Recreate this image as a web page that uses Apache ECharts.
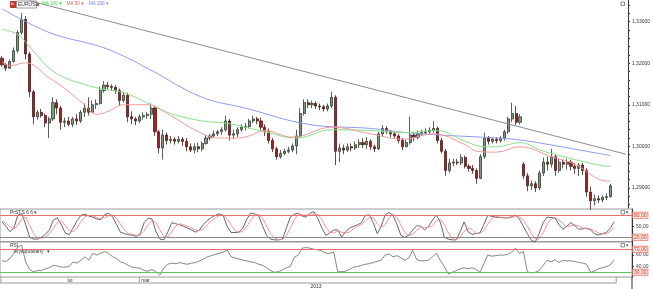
<!DOCTYPE html>
<html><head><meta charset="utf-8">
<script src="https://cdn.jsdelivr.net/npm/echarts@6/dist/echarts.min.js"></script>
<style>html,body{margin:0;padding:0;background:#fff}#c{width:653px;height:289px}</style>
</head><body><div id="c"></div>
<script>
const symbol = 'EURUSD';
const openP = [1.3212,1.3196,1.3188,1.3204,1.3230,1.3274,1.3305,1.3222,1.3131,1.3071,
1.3082,1.3074,1.3056,1.3066,1.3105,1.3092,1.3058,1.3061,1.3053,1.3066,
1.3061,1.3082,1.3092,1.3082,1.3100,1.3103,1.3134,1.3147,1.3144,1.3142,
1.3134,1.3110,1.3123,1.3071,1.3066,1.3061,1.3071,1.3074,1.3077,1.3092,
1.3035,1.2996,1.3027,1.3014,1.3017,1.3012,1.3017,1.3012,1.2999,1.2991,
1.2999,1.2994,1.3007,1.3020,1.3025,1.3030,1.3035,1.3040,1.3061,1.3027,
1.3030,1.3040,1.3046,1.3048,1.3061,1.3066,1.3061,1.3046,1.3035,1.3014,
1.2994,1.2975,1.2983,1.2988,1.2991,1.3001,1.3025,1.3079,1.3105,1.3100,
1.3103,1.3097,1.3095,1.3090,1.3097,1.3118,1.2988,1.2996,1.2991,1.2999,
1.2996,1.3004,1.3009,1.3004,1.3012,1.2999,1.2994,1.3030,1.3043,1.3035,
1.3030,1.3025,1.3014,1.2999,1.3009,1.3027,1.3022,1.3030,1.3033,1.3035,
1.3038,1.3043,1.3014,1.2988,1.2942,1.2960,1.2962,1.2960,1.2973,1.2952,
1.2947,1.2942,1.2923,1.2975,1.3020,1.3012,1.3017,1.3014,1.3020,1.3035,
1.3066,1.3079,1.3058,1.2957,1.2929,1.2905,1.2910,1.2900,1.2936,1.2962,
1.2957,1.2975,1.2942,1.2962,1.2957,1.2962,1.2952,1.2947,1.2955,1.2942,
1.2890,1.2869,1.2874,1.2871,1.2877,1.2879];
const closeP = [1.3196,1.3188,1.3204,1.3230,1.3274,1.3305,1.3222,1.3131,1.3071,1.3082,
1.3074,1.3056,1.3066,1.3105,1.3092,1.3058,1.3061,1.3053,1.3066,1.3061,
1.3082,1.3092,1.3082,1.3100,1.3103,1.3134,1.3147,1.3144,1.3142,1.3134,
1.3110,1.3123,1.3071,1.3066,1.3061,1.3071,1.3074,1.3077,1.3092,1.3035,
1.2996,1.3027,1.3014,1.3017,1.3012,1.3017,1.3012,1.2999,1.2991,1.2999,
1.2994,1.3007,1.3020,1.3025,1.3030,1.3035,1.3040,1.3061,1.3027,1.3030,
1.3040,1.3046,1.3048,1.3061,1.3066,1.3061,1.3046,1.3035,1.3014,1.2994,
1.2975,1.2983,1.2988,1.2991,1.3001,1.3025,1.3079,1.3105,1.3100,1.3103,
1.3097,1.3095,1.3090,1.3097,1.3118,1.2988,1.2996,1.2991,1.2999,1.2996,
1.3004,1.3009,1.3004,1.3012,1.2999,1.2994,1.3030,1.3043,1.3035,1.3030,
1.3025,1.3014,1.2999,1.3009,1.3027,1.3022,1.3030,1.3033,1.3035,1.3038,
1.3043,1.3014,1.2988,1.2942,1.2960,1.2962,1.2960,1.2973,1.2952,1.2947,
1.2942,1.2923,1.2975,1.3020,1.3012,1.3017,1.3014,1.3020,1.3035,1.3066,
1.3079,1.3058,1.3071,1.2929,1.2905,1.2910,1.2900,1.2936,1.2962,1.2957,
1.2975,1.2942,1.2962,1.2957,1.2962,1.2952,1.2947,1.2955,1.2942,1.2890,
1.2869,1.2874,1.2871,1.2877,1.2879,1.2905];
const lowP = [1.3191,1.3181,1.3186,1.3201,1.3225,1.3269,1.3209,1.3118,1.3053,1.3064,
1.3069,1.3046,1.3020,1.3061,1.3077,1.3040,1.3046,1.3048,1.3046,1.3051,
1.3056,1.3071,1.3074,1.3082,1.3090,1.3100,1.3129,1.3136,1.3134,1.3126,
1.3097,1.3105,1.3058,1.3053,1.3051,1.3056,1.3064,1.3066,1.3066,1.3025,
1.2983,1.2968,1.3004,1.3007,1.3004,1.3007,1.3001,1.2988,1.2986,1.2983,
1.2986,1.2988,1.3004,1.3014,1.3020,1.3025,1.3027,1.3035,1.3014,1.3017,
1.3022,1.3035,1.3038,1.3043,1.3056,1.3053,1.3038,1.3025,1.3007,1.2986,
1.2968,1.2970,1.2978,1.2983,1.2986,1.2981,1.3020,1.3074,1.3092,1.3092,
1.3090,1.3087,1.3084,1.3084,1.3092,1.2955,1.2962,1.2981,1.2986,1.2988,
1.2991,1.2996,1.2996,1.2994,1.2991,1.2986,1.2991,1.3025,1.3030,1.3022,
1.3020,1.3007,1.2991,1.2999,1.3004,1.3012,1.3017,1.3025,1.3027,1.3030,
1.3033,1.3007,1.2983,1.2929,1.2936,1.2952,1.2955,1.2955,1.2947,1.2939,
1.2934,1.2910,1.2921,1.2970,1.3004,1.3007,1.3007,1.3009,1.3014,1.3030,
1.3058,1.3051,1.3053,1.2921,1.2892,1.2895,1.2890,1.2895,1.2929,1.2942,
1.2949,1.2929,1.2936,1.2947,1.2944,1.2942,1.2934,1.2929,1.2931,1.2879,
1.2848,1.2858,1.2864,1.2866,1.2871,1.2877];
const highP = [1.3217,1.3201,1.3209,1.3238,1.3279,1.3321,1.3313,1.3227,1.3136,1.3087,
1.3090,1.3079,1.3071,1.3118,1.3113,1.3097,1.3069,1.3071,1.3071,1.3077,
1.3087,1.3103,1.3118,1.3110,1.3113,1.3144,1.3157,1.3155,1.3149,1.3147,
1.3139,1.3131,1.3129,1.3084,1.3071,1.3077,1.3082,1.3082,1.3103,1.3097,
1.3040,1.3040,1.3033,1.3025,1.3022,1.3025,1.3022,1.3020,1.3007,1.3007,
1.3009,1.3012,1.3027,1.3030,1.3038,1.3040,1.3046,1.3074,1.3066,1.3040,
1.3046,1.3053,1.3056,1.3066,1.3074,1.3071,1.3069,1.3053,1.3043,1.3020,
1.2999,1.2991,1.2994,1.2999,1.3007,1.3040,1.3092,1.3113,1.3113,1.3110,
1.3108,1.3103,1.3100,1.3103,1.3131,1.3123,1.3007,1.3004,1.3007,1.3007,
1.3012,1.3017,1.3020,1.3022,1.3017,1.3004,1.3035,1.3051,1.3048,1.3040,
1.3035,1.3030,1.3020,1.3017,1.3071,1.3035,1.3038,1.3040,1.3043,1.3046,
1.3061,1.3048,1.3020,1.2994,1.2970,1.2970,1.2970,1.2981,1.2978,1.2957,
1.2955,1.2947,1.2981,1.3033,1.3025,1.3022,1.3022,1.3025,1.3040,1.3071,
1.3105,1.3097,1.3077,1.2962,1.2936,1.2918,1.2916,1.2942,1.2973,1.2975,
1.2994,1.2981,1.2970,1.2968,1.2970,1.2968,1.2960,1.2960,1.2960,1.2947,
1.2903,1.2884,1.2882,1.2882,1.2887,1.2910];

const ma200Idx = [0,12,25,31,38,51,62,78,94,103,112,126,133,152,155];
const ma200 = [1.3331,1.3274,1.3240,1.3217,1.3183,1.3118,1.3092,1.3053,1.3043,1.3033,1.3027,1.3020,1.3014,1.2983,1.2978];
const ma100Idx = [0,4,7,12,16,21,25,31,38,43,51,57,62,67,75,84,94,103,111,118,123,126,132,138,152,155];
const ma100 = [1.3282,1.3269,1.3240,1.3188,1.3165,1.3149,1.3139,1.3129,1.3100,1.3079,1.3061,1.3056,1.3046,1.3035,1.3020,1.3040,1.3038,1.3033,1.3038,1.3012,1.2999,1.2999,1.3009,1.2988,1.2955,1.2952];
const ma50Idx = [0,2,6,12,16,21,24,27,31,37,43,49,55,60,63,67,74,84,94,102,110,118,121,126,132,140,146,152,155];
const ma50 = [1.3204,1.3194,1.3201,1.3165,1.3139,1.3100,1.3077,1.3084,1.3100,1.3100,1.3074,1.3040,1.3020,1.3020,1.3025,1.3038,1.3022,1.3046,1.3030,1.3017,1.3030,1.3004,1.2988,1.2986,1.2999,1.2975,1.2957,1.2921,1.2916];
const trendIdx = [7, 159];
const trendVal = [1.3350, 1.2981];

const stochK = [62,50,35,45,80,85,55,20,15,15,20,28,40,67,73,55,32,27,45,65,
80,83,78,75,70,68,82,86,75,55,34,30,27,26,22,30,60,72,70,35,
15,13,35,60,57,54,50,45,40,34,40,55,66,74,80,84,80,50,33,33,
34,45,70,86,84,78,50,25,15,13,13,15,45,75,83,86,78,75,86,90,
70,45,25,32,40,40,21,35,45,50,54,60,80,81,60,30,50,81,88,80,
55,25,20,26,40,52,50,40,50,67,81,60,20,15,13,13,35,62,35,28,
30,32,55,80,77,75,74,73,73,76,81,70,50,30,12,7,30,60,75,74,
73,55,42,50,60,52,42,43,45,40,30,26,30,33,45,62];
const stochD = [65,58,49,43,53,70,75,53,30,17,17,21,29,45,60,65,53,38,35,46,
63,76,80,79,74,71,73,79,81,72,55,40,30,28,25,26,37,54,67,59,
40,21,21,36,51,57,54,50,45,40,38,43,54,65,73,79,81,71,54,39,
33,37,50,67,80,83,71,51,30,18,14,14,24,45,68,81,82,80,80,84,
82,68,47,34,32,37,34,32,34,43,50,55,65,74,74,57,47,54,73,83,
74,53,33,24,29,39,47,47,47,52,66,69,54,32,16,14,20,37,44,42,
31,30,39,56,71,77,75,74,73,74,77,76,67,50,31,16,16,32,55,70,
74,67,57,49,51,54,51,46,43,43,38,32,29,30,36,47];
const rsi = [50,49,54,63,74,77,48,35,31,33,33,36,38,42,41,39,39,40,48,46,
51,57,51,63,60,63,66,63,57,54,48,46,42,39,38,37,33,32,35,31,
25,38,44,46,45,47,45,44,46,47,50,53,57,59,61,63,65,69,57,55,
53,51,50,48,47,44,42,38,33,30,31,34,38,40,56,60,72,73,72,70,
69,67,63,63,65,31,31,32,35,39,40,42,44,45,47,49,51,60,62,57,
59,55,51,55,68,52,50,50,51,57,63,50,40,27,30,33,36,38,36,38,
35,30,45,60,58,59,60,60,61,65,72,63,66,31,29,30,33,42,51,48,
52,47,51,50,50,49,47,46,44,30,32,36,38,40,43,52];

const priceTicks = [1.29, 1.30, 1.31, 1.32, 1.33];
const stochTicks = [50];
const stochLevels = [80, 20];
const rsiTicks = [40, 60];
const rsiLevels = [70, 30];
const stochTitle = 'PrSTS 6 6 \u25BE';
const rsiTitle = 'RSI';
const rsiSub = '"Wykupowany"';
const monthLabels = ['lut', 'mar'];
const monthStartIdx = [0, 35];
const yearLabel = '2013';
const nSlots = 160;

const FONT = 'Liberation Sans, Arial, sans-serif';
const cats = Array.from({length: nSlots}, (_, i) => String(i));
const candles = openP.map((o, i) => [o, closeP[i], lowP[i], highP[i]]);
const comma = (v, d) => v.toFixed(d).replace('.', ',');
const minorTicks = [];
for (let v = 1.286; v < 1.3352; v += 0.002) minorTicks.push(+v.toFixed(3));

const chart = echarts.init(document.getElementById('c'), null, {renderer: 'canvas'});
const plainLabel = {fontSize: 5, fontFamily: FONT, color: '#444', margin: 4, hideOverlap: false};
const boxLabel = v => ({
  show: true, position: 'end', distance: 1, formatter: comma(v, 2),
  fontSize: 5, fontFamily: FONT, color: '#c0392b', borderColor: '#e8735f', borderWidth: 0.8,
  backgroundColor: '#fde9e1', padding: [0.5, 1, 0, 1]
});
const levelLine = (v, color) => ({yAxis: v, lineStyle: {color: color, type: 'solid', width: 1}, label: boxLabel(v)});
const option = {
  animation: false,
  backgroundColor: '#fff',
  textStyle: {fontFamily: FONT},
  legend: {
    left: 37, top: 1.5, itemWidth: 0, itemHeight: 0, icon: 'none', itemGap: 0, padding: 0,
    textStyle: {fontSize: 4.5, fontFamily: FONT},
    formatter: n => n + ' \u25BE',
    data: [
      {name: 'MA 100', textStyle: {color: '#3fcf3f'}},
      {name: 'MA 50', textStyle: {color: '#e85a5a'}},
      {name: 'MA 200', textStyle: {color: '#6f7fe8'}}
    ]
  },
  grid: [
    {left: 0, right: 21, top: 0, height: 208},
    {left: 0, right: 21, top: 209, height: 32.5, show: true, borderColor: '#9a9a9a', borderWidth: 1},
    {left: 0, right: 21, top: 242, height: 35, show: true, borderColor: '#9a9a9a', borderWidth: 1}
  ],
  xAxis: [0, 1, 2].map(g => ({
    type: 'category', gridIndex: g, data: cats, boundaryGap: true,
    axisLine: {show: false}, axisTick: {show: false}, axisLabel: {show: false}, splitLine: {show: false}
  })),
  yAxis: [
    {
      type: 'value', gridIndex: 0, position: 'right', min: 1.285169, max: 1.335195, scale: true,
      splitLine: {show: false},
      axisLine: {show: true, lineStyle: {color: '#333', width: 1}},
      axisTick: {show: true, customValues: minorTicks, length: 2, lineStyle: {color: '#333'}},
      axisLabel: Object.assign({customValues: priceTicks, formatter: v => comma(v, 5)}, plainLabel, {color: '#333'})
    },
    {
      type: 'value', gridIndex: 1, position: 'right', min: 8.55, max: 97.18,
      splitLine: {show: false},
      axisLine: {show: true, lineStyle: {color: '#333'}},
      axisTick: {show: true, customValues: stochTicks, length: 2, lineStyle: {color: '#333'}},
      axisLabel: Object.assign({customValues: stochTicks, formatter: v => comma(v, 2)}, plainLabel)
    },
    {
      type: 'value', gridIndex: 2, position: 'right', min: 21.83, max: 82.7,
      splitLine: {show: false},
      axisLine: {show: true, lineStyle: {color: '#333'}},
      axisTick: {show: true, customValues: rsiTicks, length: 2, lineStyle: {color: '#333'}},
      axisLabel: Object.assign({customValues: rsiTicks, formatter: v => comma(v, 2)}, plainLabel)
    }
  ],
  series: [
    {
      name: 'MA 200', type: 'line', xAxisIndex: 0, yAxisIndex: 0, showSymbol: false, smooth: 0.4,
      data: ma200Idx.map((x, k) => [x, ma200[k]]), lineStyle: {color: '#8f9cf2', width: 1}, itemStyle: {color: '#6f7fe8'}, silent: true
    },
    {
      name: 'MA 100', type: 'line', xAxisIndex: 0, yAxisIndex: 0, showSymbol: false, smooth: 0.4,
      data: ma100Idx.map((x, k) => [x, ma100[k]]), lineStyle: {color: '#86e086', width: 1}, itemStyle: {color: '#3fcf3f'}, silent: true
    },
    {
      name: 'MA 50', type: 'line', xAxisIndex: 0, yAxisIndex: 0, showSymbol: false, smooth: 0.4,
      data: ma50Idx.map((x, k) => [x, ma50[k]]), lineStyle: {color: '#f29a9a', width: 1}, itemStyle: {color: '#e85a5a'}, silent: true
    },
    {
      name: 'trend', type: 'line', xAxisIndex: 0, yAxisIndex: 0, showSymbol: false,
      data: trendIdx.map((x, k) => [x, trendVal[k]]), lineStyle: {color: '#8c8c8c', width: 1}, silent: true
    },
    {
      name: symbol, type: 'candlestick', xAxisIndex: 0, yAxisIndex: 0, data: candles, barWidth: 2.6,
      itemStyle: {color: '#7f9c7f', color0: '#a52222', borderColor: '#2e3a2e', borderColor0: '#4a1a1a', borderWidth: 0.8}
    },
    {
      name: 'K', type: 'line', xAxisIndex: 1, yAxisIndex: 1, showSymbol: false, data: stochK,
      lineStyle: {color: '#555', width: 0.9}, silent: true,
      markLine: {silent: true, symbol: 'none', precision: 2,
        data: [levelLine(stochLevels[0], '#ef6b6b'), levelLine(stochLevels[1], '#8a8a8a')]}
    },
    {
      name: 'D', type: 'line', xAxisIndex: 1, yAxisIndex: 1, showSymbol: false, data: stochD,
      lineStyle: {color: '#f08a8a', width: 0.9}, silent: true
    },
    {
      name: 'RSI', type: 'line', xAxisIndex: 2, yAxisIndex: 2, showSymbol: false, data: rsi,
      lineStyle: {color: '#666', width: 0.8}, silent: true,
      markLine: {silent: true, symbol: 'none', precision: 2,
        data: [levelLine(rsiLevels[0], '#ef6b6b'), levelLine(rsiLevels[1], '#5cc75c')]}
    }
  ]
};
chart.setOption(option);

// decorations positioned through the axes
const px = i => chart.convertToPixel({xAxisIndex: 2}, i);
const rowTop = 277, rowMid = 283;
const axisX = 632;
const endX = px(openP.length - 1) + 2;
const g = [];
g.push({type: 'rect', shape: {x: 10, y: 1, width: 6, height: 7}, style: {fill: '#c0392b'}});
g.push({type: 'text', style: {x: 11, y: 2, text: 'fx', fontSize: 4, fill: '#fff', fontFamily: FONT}});
g.push({type: 'rect', shape: {x: 16.5, y: 1, width: 20, height: 7}, style: {fill: '#fff', stroke: '#555', lineWidth: 0.6}});
g.push({type: 'text', style: {x: 18, y: 2.2, text: symbol, fontSize: 5, fill: '#333', fontFamily: FONT}});
g.push({type: 'text', style: {x: 37, y: 2.2, text: '\u25BE', fontSize: 5, fill: '#333', fontFamily: FONT}});
g.push({type: 'text', style: {x: 10, y: 210.5, text: stochTitle, fontSize: 5, fill: '#333', fontFamily: FONT}});
g.push({type: 'text', style: {x: 10, y: 243.5, text: rsiTitle, fontSize: 5, fill: '#333', fontFamily: FONT}});
g.push({type: 'text', style: {x: 12, y: 249.5, text: rsiSub + ' \u25BE', fontSize: 5, fill: '#333', fontFamily: FONT}});
[2, 210.5, 243.5].forEach(y => {
  g.push({type: 'rect', shape: {x: 621, y: y, width: 3.5, height: 3.5}, style: {fill: '#fff', stroke: '#444', lineWidth: 0.6}});
  if (y > 100) g.push({type: 'text', style: {x: 625.5, y: y - 0.7, text: '\u00D7', fontSize: 5.5, fill: '#222', fontFamily: FONT}});
});
g.push({type: 'line', shape: {x1: 0, y1: rowMid, x2: endX, y2: rowMid}, style: {stroke: '#9a9a9a', lineWidth: 1}});
monthStartIdx.forEach((ix, k) => {
  const x = px(ix) - 1;
  g.push({type: 'line', shape: {x1: x, y1: rowTop, x2: x, y2: rowMid}, style: {stroke: '#9a9a9a', lineWidth: 1}});
  const next = k + 1 < monthStartIdx.length ? px(monthStartIdx[k + 1]) - 1 : null;
  if (next !== null) {
    g.push({type: 'text', style: {x: (x + next) / 2, y: rowTop + 1, text: monthLabels[k], fontSize: 5, fill: '#333', fontFamily: FONT, align: 'center'}});
  } else {
    g.push({type: 'text', style: {x: x + 2, y: rowTop + 1, text: monthLabels[k], fontSize: 5, fill: '#333', fontFamily: FONT}});
  }
});
g.push({type: 'line', shape: {x1: endX, y1: rowTop, x2: endX, y2: rowMid}, style: {stroke: '#9a9a9a', lineWidth: 1}});
g.push({type: 'line', shape: {x1: axisX, y1: rowTop, x2: axisX, y2: 289}, style: {stroke: '#333', lineWidth: 1}});
g.push({type: 'text', style: {x: axisX / 2, y: rowMid + 1, text: yearLabel, fontSize: 5, fill: '#333', fontFamily: FONT, align: 'center'}});
chart.setOption({graphic: g});
</script>
</body></html>
